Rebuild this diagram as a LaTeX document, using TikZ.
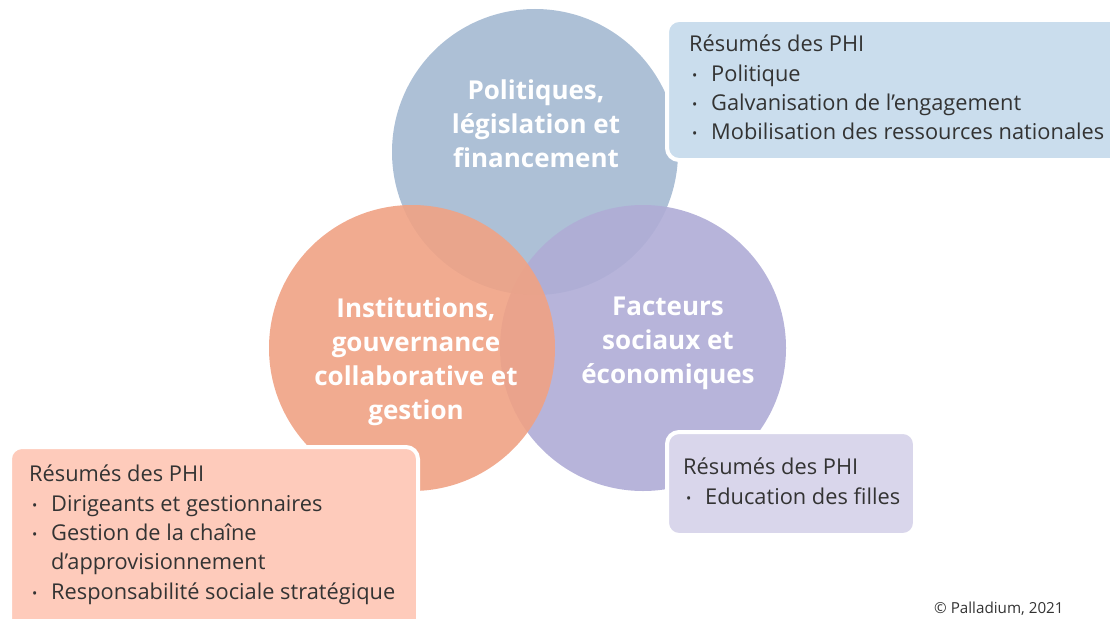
\documentclass[tikz,border=0pt]{standalone}
\usepackage{fontspec}
\setmainfont{Open Sans}
\definecolor{cblue}{HTML}{A4B9D2}
\definecolor{corange}{HTML}{F0A284}
\definecolor{cpurple}{HTML}{AFACD6}
\definecolor{bblue}{HTML}{CADDED}
\definecolor{borange}{HTML}{FECBBB}
\definecolor{bpurple}{HTML}{D9D6EB}
\definecolor{txt}{HTML}{333333}
\newcommand{\bul}{\hspace*{3pt}\makebox[19pt][l]{\raisebox{1pt}{\fontsize{14}{14}\selectfont•}}}
\tikzset{
  circ/.style={circle, minimum size=286pt, inner sep=0pt, fill opacity=0.9},
  title/.style={text=white, font=\bfseries\fontsize{26}{34}\selectfont, align=center},
  sbox/.style={rounded corners=12pt, draw=white, line width=4pt, anchor=north west, inner sep=0pt},
  stext/.style={text=txt, font=\fontsize{21.8}{29.3}\selectfont, align=left, anchor=north west, inner sep=0pt},
}
\begin{document}
\begin{tikzpicture}[x=1pt,y=-1pt]
\useasboundingbox (0,0) rectangle (1110,618);
\clip (0,0) rectangle (1110,618);
\node[circ, fill=cblue] (top) at (535,152) {};
\node[circ, fill=cpurple] (right) at (643,348) {};
\node[circ, fill=corange] (left) at (412,348) {};
\node[title] (ttop) at (536,124) {Politiques,\\législation et\\financement};
\node[title] (tleft) at (416,362) {Institutions,\\gouvernance\\collaborative et\\gestion};
\node[title] (tright) at (668,343) {Facteurs\\sociaux et\\économiques};
% boxes
\node[sbox, fill=bblue, minimum width=470pt, minimum height=140pt] (btop) at (665,18) {};
\node[sbox, fill=borange, minimum width=408pt, minimum height=200pt] (bleft) at (8,445) {};
\node[sbox, fill=bpurple, minimum width=248pt, minimum height=103pt] (bright) at (665,430) {};
\node[stext] (ttxt) at (689,35) {Résumés des PHI\\\bul Politique\\\bul Galvanisation de l’engagement\\\bul Mobilisation des ressources nationales};
\node[stext] (ltxt) at (29,465) {Résumés des PHI\\\bul Dirigeants et gestionnaires\\\bul Gestion de la chaîne\\\hspace*{22pt}d’approvisionnement\\\bul Responsabilité sociale stratégique};
\node[stext] (rtxt) at (683,458) {Résumés des PHI\\\bul Education des filles};
\node[text=txt, font=\fontsize{15.2}{17}\selectfont, anchor=south west, inner sep=0pt] (copy) at (934,616) {© Palladium, 2021};
\end{tikzpicture}
\end{document}
